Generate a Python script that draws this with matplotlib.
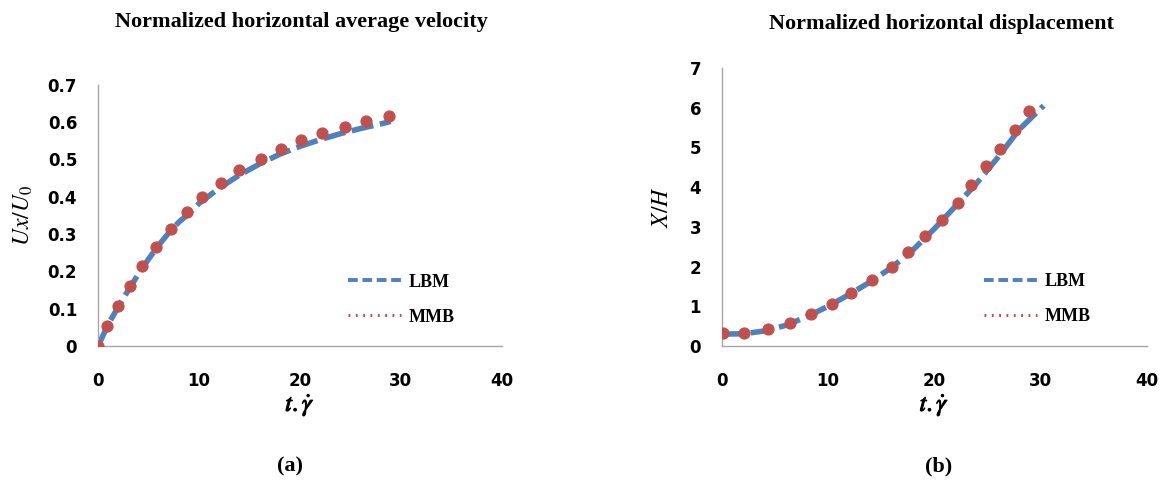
import matplotlib.pyplot as plt
import matplotlib.patheffects as pe
from matplotlib.lines import Line2D

plt.rcParams['font.family'] = ['Liberation Serif', 'DejaVu Serif']
plt.rcParams['mathtext.fontset'] = 'stix'

# (a) normalized horizontal average velocity
lbm_t_a = [0, 1, 2, 3, 4, 5, 6, 7, 8, 9, 10, 12, 14, 16, 18, 20, 22, 24, 26, 28, 29]
lbm_u_a = [0.0, 0.058, 0.105, 0.15, 0.193, 0.233, 0.27, 0.303, 0.332, 0.355, 0.382,
           0.423, 0.458, 0.488, 0.514, 0.535, 0.553, 0.569, 0.583, 0.595, 0.602]
mmb_t_a = [0, 0.9, 2.0, 3.2, 4.4, 5.7, 7.2, 8.8, 10.3, 12.2, 14.0, 16.1, 18.1, 20.1,
           22.2, 24.5, 26.6, 28.8]
mmb_u_a = [0.0, 0.055, 0.108, 0.162, 0.215, 0.265, 0.313, 0.358, 0.40, 0.436, 0.471,
           0.501, 0.527, 0.551, 0.571, 0.588, 0.603, 0.617]

# (b) normalized horizontal displacement
lbm_t_b = [0, 2, 4, 6, 8, 10, 12, 14, 16, 18, 20, 22, 24, 26, 28, 30.3]
lbm_x_b = [0.3, 0.31, 0.38, 0.52, 0.74, 1.0, 1.3, 1.62, 1.98, 2.42, 2.95, 3.52,
           4.1, 4.75, 5.45, 6.05]
mmb_t_b = [0.1, 2.1, 4.3, 6.4, 8.4, 10.4, 12.2, 14.1, 16.0, 17.5, 19.1, 20.7, 22.2,
           23.5, 24.9, 26.2, 27.6, 28.9]
mmb_x_b = [0.32, 0.32, 0.42, 0.59, 0.80, 1.05, 1.34, 1.66, 1.99, 2.37, 2.76, 3.18,
           3.61, 4.06, 4.52, 4.97, 5.44, 5.91]

blue = '#4F81BD'
red = '#C0504D'
axis_gray = '#a6a6a6'

fig = plt.figure(figsize=(11.7, 4.82), dpi=100, facecolor='white')
ax1 = fig.add_axes([0.0838, 0.282, 0.345, 0.542])
ax2 = fig.add_axes([0.617, 0.282, 0.363, 0.577])

bold_fx = [pe.withStroke(linewidth=0.7, foreground='black')]


def style_axes(ax, ymax, ystep, yfmt):
    ax.set_xlim(0, 40)
    ax.set_ylim(0, ymax)
    ax.set_xticks([0, 10, 20, 30, 40])
    yt = [i * ystep for i in range(int(round(ymax / ystep)) + 1)]
    ax.set_yticks(yt)
    ax.set_yticklabels([yfmt(v) for v in yt])
    for s in ['top', 'right']:
        ax.spines[s].set_visible(False)
    for s in ['left', 'bottom']:
        ax.spines[s].set_color(axis_gray)
        ax.spines[s].set_linewidth(1.0)
    ax.tick_params(axis='x', length=0, pad=19)
    ax.tick_params(axis='y', length=0, pad=15)
    for lab in ax.get_xticklabels() + ax.get_yticklabels():
        lab.set_family('DejaVu Sans')
        lab.set_fontweight('bold')
        lab.set_fontsize(12)


def add_legend(ax, anchor):
    handles = [Line2D([], [], color=blue, lw=2.8, linestyle=(0, (2.5, 1.2))),
               Line2D([], [], color=red, lw=2.2, linestyle=(0, (0.6, 1.8)))]
    leg = ax.legend(handles, ['LBM', 'MMB'], loc='upper left', bbox_to_anchor=anchor,
                    frameon=False, handlelength=2.9, handletextpad=0.45,
                    labelspacing=1.0,
                    prop={'family': 'Liberation Serif', 'weight': 'bold', 'size': 13})
    return leg


# left panel
ax1.plot(lbm_t_a, lbm_u_a, color=blue, lw=4, linestyle=(0, (4, 1.2)), zorder=2)
ax1.plot(mmb_t_a, mmb_u_a, 'o', color=red, ms=7.8, zorder=3)
style_axes(ax1, 0.7, 0.1, lambda v: '0' if v == 0 else '%.1f' % v)
ax1.set_ylabel(r'$Ux/U_0$', fontsize=17, labelpad=9)
xl = ax1.set_xlabel(r'$t.\dot{\gamma}$', fontsize=18, labelpad=1)
xl.set_path_effects(bold_fx)
add_legend(ax1, (0.58, 0.34))

# right panel
ax2.plot(lbm_t_b, lbm_x_b, color=blue, lw=4, linestyle=(0, (4, 1.2)), zorder=2)
ax2.plot(mmb_t_b, mmb_x_b, 'o', color=red, ms=7.8, zorder=3)
style_axes(ax2, 7, 1, lambda v: '%d' % v)
ax2.set_ylabel(r'$X/H$', fontsize=17, labelpad=12)
xl = ax2.set_xlabel(r'$t.\dot{\gamma}$', fontsize=18, labelpad=1)
xl.set_path_effects(bold_fx)
add_legend(ax2, (0.58, 0.32))

fig.text(0.258, 0.954, 'Normalized horizontal average velocity', ha='center',
         va='center', fontsize=16, fontweight='bold')
fig.text(0.805, 0.950, 'Normalized horizontal displacement', ha='center',
         va='center', fontsize=16, fontweight='bold')

fig.text(0.248, 0.033, '(a)', ha='center', va='center', fontsize=16, fontweight='bold')
fig.text(0.802, 0.033, '(b)', ha='center', va='center', fontsize=16, fontweight='bold')

plt.savefig('out.png', dpi=100)
